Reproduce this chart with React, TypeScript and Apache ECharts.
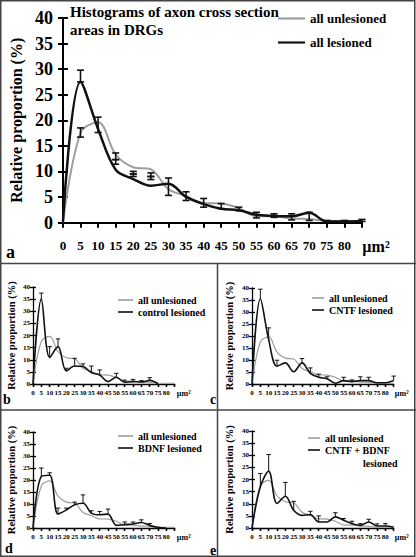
import React, { useEffect, useRef } from "react";
import * as echarts from "echarts";

// ---------- data ----------
const bins = [0, 5, 10, 15, 20, 25, 30, 35, 40, 45, 50, 55, 60, 65, 70, 75, 80, 85];
const yTicks = [0, 5, 10, 15, 20, 25, 30, 35, 40];

const allUnlesioned = [0, 17.5, 19.6, 13.3, 10.8, 10.4, 6.5, 5.2, 3.8, 3.7, 2.8, 1.2, 1.2, 0.8, 0.7, 0.3, 0.3, 0.3];
const allLesioned = [0, 27.5, 18.3, 10.3, 8.5, 7.2, 7.6, 5.0, 3.6, 2.7, 2.4, 1.5, 1.3, 1.2, 1.9, 0.2, 0.2, 0.3];
// panel a error bars: [bin, low, high]
const allErrorBars = [
  [5, 16.7, 18.5], [5, 27.5, 29.8], [10, 17.6, 20.6], [15, 12.3, 13.6], [15, 11.4, 12.3],
  [20, 9.5, 10.0], [20, 9.0, 9.5], [25, 9.0, 9.7], [25, 8.4, 9.0], [30, 5.3, 8.7],
  [35, 4.3, 6.0], [40, 3.0, 4.7], [45, 2.7, 3.7], [50, 2.3, 3.0], [55, 0.9, 2.0],
  [60, 1.0, 1.7], [65, 0.5, 1.7], [70, 0.4, 2.0], [75, 0.1, 0.4], [80, 0.1, 0.4], [85, 0.2, 0.6],
];

const controlLesioned = [0, 35, 10.9, 15.4, 5.4, 7.4, 7.2, 4.7, 3.7, 1.0, 2.8, 0.7, 1.0, 0.8, 1.5, 0.1];
const controlErrTop = [null, 37.5, 15.4, 18.6, 6.5, 10.6, 8.3, 7.4, 5.8, null, 4.4, 1.6, 1.9, 1.4, 2.6, null];

const cntfLesioned = [0, 35.5, 18.5, 7.4, 8.8, 5.1, 8.8, 4.4, 2.8, 2.2, 0.3, 1.4, 1.0, 1.4, 1.4, 0.5, 0.5, 1.5];
const cntfErrTop = [null, 39.5, 23.4, 9.9, null, null, 10.6, 6.7, 4.1, 3.0, null, 2.8, 1.7, 3.0, 2.8, null, null, 3.3];

const bdnfLesioned = [0, 21.5, 22, 5.8, 7.5, 9.7, 10.3, 6.2, 5.5, 5.8, 1.1, 1.4, 1.7, 2.3, 1.1, 0.3, 0];
const bdnfErrTop = [null, 25, 23, 8.3, 8.3, 10.8, 13.8, 7.2, 6.9, 7.9, null, 2.5, 2.5, 3.4, 1.9, null, null];

const comboLesioned = [0, 17, 23.4, 10.1, 13.1, 7.3, 5.2, 5.5, 2.5, 2.5, 4.6, 3.2, 1.8, 1.1, 2.5, 0.8, 0.8, 0.3];
const comboErrTop = [null, 22.5, 30.3, null, 18.8, 11, null, 6.9, 5.0, null, 6.3, 3.9, 2.8, 1.8, 3.6, 1.7, 1.8, null];

const seriesNames = ["all unlesioned", "all lesioned", "control lesioned", "CNTF lesioned", "BDNF lesioned", "CNTF + BDNF lesioned"];
const panelLetters = ["a", "b", "c", "d", "e"];
const titleText = "Histograms of axon cross section\nareas in DRGs";
const yName = "Relative proportion (%)";
const unitLabel = "µm²";

// ---------- styling ----------
const FONT = "Liberation Serif, Times New Roman, serif";
const GRAY = "#9e9e9e";
const BLACK = "#111111";

type Panel = {
  left: number; top: number; width: number; height: number; big: boolean;
  lesionedName: string; lesioned: number[]; errTop?: (number | null)[];
  legendLeft: number; legendTop: number; unitShift: number; nameGap: number;
};

const panels: Panel[] = [
  { left: 58, top: 18, width: 304, height: 204.5, big: true, lesionedName: seriesNames[1], lesioned: allLesioned, legendLeft: 278, legendTop: 12, unitShift: 14, nameGap: 37 },
  { left: 33, top: 287, width: 141.7, height: 97, big: false, lesionedName: seriesNames[2], lesioned: controlLesioned, errTop: controlErrTop, legendLeft: 118, legendTop: 295, unitShift: 9, nameGap: 16 },
  { left: 252, top: 288, width: 141.7, height: 96, big: false, lesionedName: seriesNames[3], lesioned: cntfLesioned, errTop: cntfErrTop, legendLeft: 312, legendTop: 293, unitShift: 8, nameGap: 17 },
  { left: 33, top: 432, width: 141.7, height: 96, big: false, lesionedName: seriesNames[4], lesioned: bdnfLesioned, errTop: bdnfErrTop, legendLeft: 118, legendTop: 431, unitShift: 9, nameGap: 16 },
  { left: 252, top: 431, width: 141.7, height: 97, big: false, lesionedName: seriesNames[5], lesioned: comboLesioned, errTop: comboErrTop, legendLeft: 308, legendTop: 433, unitShift: 8, nameGap: 17 },
];

function pairs(vals: number[]) {
  return vals.map((v, i) => [bins[i], v]);
}

function errorRender(cap: number, both: boolean, lw: number) {
  return (params: any, api: any) => {
    const x = api.value(0);
    const lo = api.coord([x, api.value(1)]);
    const hi = api.coord([x, api.value(2)]);
    const style = { stroke: BLACK, lineWidth: lw };
    const children: any[] = [
      { type: "line", shape: { x1: lo[0], y1: lo[1], x2: hi[0], y2: hi[1] }, style },
      { type: "line", shape: { x1: hi[0] - cap, y1: hi[1], x2: hi[0] + cap, y2: hi[1] }, style },
    ];
    if (both) children.push({ type: "line", shape: { x1: lo[0] - cap, y1: lo[1], x2: lo[0] + cap, y2: lo[1] }, style });
    return { type: "group", children };
  };
}

const serifBold = (size: number) => ({ fontFamily: FONT, fontWeight: "bold" as const, fontSize: size, color: "#000" });

function buildOption() {
  const grid: any[] = [];
  const xAxis: any[] = [];
  const yAxis: any[] = [];
  const series: any[] = [];
  const legend: any[] = [];

  panels.forEach((p, g) => {
    const big = p.big;
    const axisW = big ? 2 : 1.3;
    const tickLen = big ? 5 : 3;
    grid.push({ left: p.left, top: p.top, width: p.width, height: p.height, containLabel: false });

    const xBase = {
      type: "value", gridIndex: g, min: 0, max: 85, interval: 5,
      splitLine: { show: false },
    };
    xAxis.push({
      ...xBase,
      axisLine: { show: true, lineStyle: { color: "#000", width: axisW } },
      axisTick: { show: true, length: tickLen, lineStyle: { color: "#000", width: axisW } },
      axisLabel: {
        ...serifBold(big ? 13 : 7),
        margin: big ? 16 : 5,
        formatter: (v: number) => (v === 85 ? "{u|" + unitLabel + "}" : "{n|" + v + "}"),
        rich: {
          n: serifBold(big ? 13 : 7),
          u: { ...serifBold(big ? 16 : 8), padding: [0, 0, 0, p.unitShift * 2] },
        },
      },
    });
    xAxis.push({
      ...xBase,
      axisLine: { show: false },
      axisTick: { show: true, inside: true, length: tickLen, lineStyle: { color: "#000", width: axisW } },
      axisLabel: { show: false },
    });

    const yBase = {
      type: "value", gridIndex: g, position: "left", min: 0, max: 40, interval: 5,
      splitLine: { show: false },
    };
    yAxis.push({
      ...yBase,
      name: "{t|" + yName + "}", nameLocation: "middle", nameGap: p.nameGap,
      nameTextStyle: { ...serifBold(big ? 16 : 10.5), rich: { t: serifBold(big ? 16 : 10.5) } },
      axisLine: { show: true, lineStyle: { color: "#000", width: axisW } },
      axisTick: { show: true, length: tickLen, lineStyle: { color: "#000", width: axisW } },
      axisLabel: {
        ...serifBold(big ? 18 : 7), margin: big ? 10 : 3,
        formatter: (v: number) => (yTicks.indexOf(v) >= 0 ? "{n|" + v + "}" : ""),
        rich: { n: serifBold(big ? 18 : 7) },
      },
    });
    yAxis.push({
      ...yBase,
      axisLine: { show: false },
      axisTick: { show: true, inside: true, length: tickLen, lineStyle: { color: "#000", width: axisW } },
      axisLabel: { show: false },
    });

    const xi = g * 2;
    series.push({
      type: "line", name: seriesNames[0], xAxisIndex: xi, yAxisIndex: xi,
      data: pairs(allUnlesioned), smooth: 0.35, symbol: "none", color: GRAY,
      lineStyle: { color: GRAY, width: big ? 2 : 1.2 }, itemStyle: { color: GRAY }, z: 2,
    });
    series.push({
      type: "line", name: p.lesionedName, xAxisIndex: xi, yAxisIndex: xi,
      data: pairs(p.lesioned), smooth: 0.35, symbol: "none", color: BLACK,
      lineStyle: { color: BLACK, width: big ? 2.5 : 1.6 }, itemStyle: { color: BLACK }, z: 3,
    });
    let errData: number[][];
    if (big) {
      errData = allErrorBars.map((e) => [e[0], e[1], e[2]]);
    } else {
      errData = [];
      (p.errTop || []).forEach((t, i) => {
        if (t !== null && t !== undefined) errData.push([bins[i], p.lesioned[i], t]);
      });
    }
    series.push({
      type: "custom", name: "err" + g, xAxisIndex: xi, yAxisIndex: xi,
      data: errData, encode: { x: 0, y: [1, 2] },
      renderItem: errorRender(big ? 3.5 : 2.2, big, big ? 1.6 : 1), z: 4, silent: true,
    });

    legend.push({
      show: true, left: p.legendLeft, top: p.legendTop, orient: "vertical",
      icon: "rect", itemWidth: big ? 27 : (p.left > 200 ? 12 : 15), itemHeight: big ? 2.2 : 1.6,
      itemGap: big ? 11 : 2, selectedMode: false, padding: 0,
      data: [seriesNames[0], p.lesionedName],
      formatter: (n: string) => (n === seriesNames[5] ? "CNTF + BDNF" : n),
      textStyle: serifBold(big ? 13 : 10),
    });
  });

  const lineStyle = { stroke: "#444", lineWidth: 1.5 };
  const letterStyle = (size: number) => ({ fontFamily: FONT, fontWeight: "bold", fontSize: size, fill: "#000" });
  const graphic: any[] = [
    { type: "rect", shape: { x: 0.75, y: 0.75, width: 414, height: 555.5 }, style: { fill: "none", stroke: "#444", lineWidth: 1.5 }, silent: true },
    { type: "line", shape: { x1: 0, y1: 263.5, x2: 416, y2: 263.5 }, style: lineStyle },
    { type: "line", shape: { x1: 0, y1: 410, x2: 416, y2: 410 }, style: lineStyle },
    { type: "line", shape: { x1: 217.5, y1: 263.5, x2: 217.5, y2: 557 }, style: lineStyle },
    { type: "text", left: 70, top: 3, style: { text: titleText, ...letterStyle(15), lineHeight: 18 } },
    { type: "text", left: 6, top: 243, style: { text: panelLetters[0], ...letterStyle(18) } },
    { type: "text", left: 3, top: 392, style: { text: panelLetters[1], ...letterStyle(14) } },
    { type: "text", left: 210, top: 392, style: { text: panelLetters[2], ...letterStyle(14) } },
    { type: "text", left: 5, top: 541, style: { text: panelLetters[3], ...letterStyle(14) } },
    { type: "text", left: 210, top: 543, style: { text: panelLetters[4], ...letterStyle(14) } },
    { type: "text", left: 363, top: 458, style: { text: "lesioned", ...letterStyle(10) } },
  ];

  return {
    animation: false, backgroundColor: "#fff",
    textStyle: { fontFamily: FONT, fontWeight: "bold" },
    grid, xAxis, yAxis, series, legend, graphic,
  };
}

export default function App() {
  const ref = useRef<HTMLDivElement>(null);
  useEffect(() => {
    document.body.style.margin = "0";
    if (!ref.current) return;
    const chart = echarts.init(ref.current, undefined, { renderer: "svg" });
    chart.setOption(buildOption() as any);
    return () => chart.dispose();
  }, []);
  return <div ref={ref} style={{ width: 416, height: 557 }} />;
}
